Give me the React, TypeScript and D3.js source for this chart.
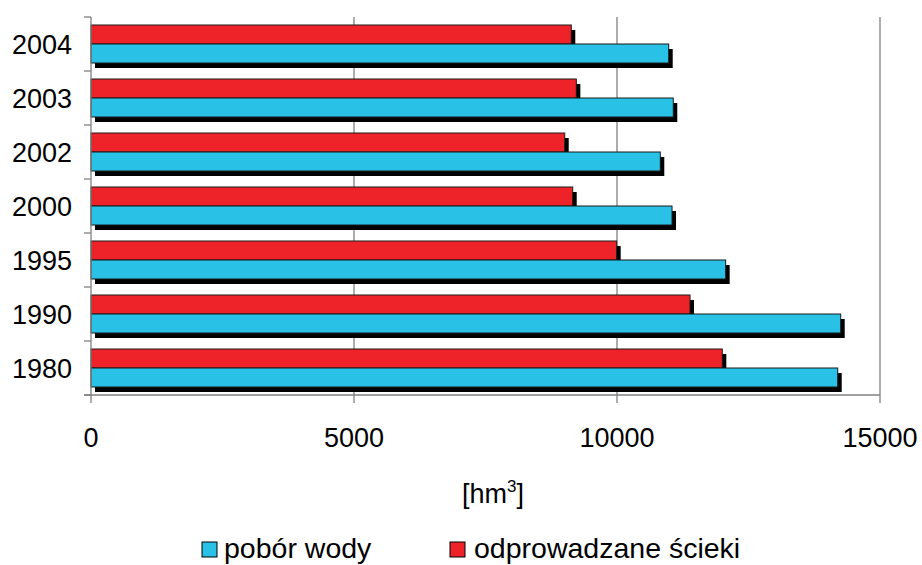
import React from "react";
import * as d3 from "d3";

const years = ["2004", "2003", "2002", "2000", "1995", "1990", "1980"];
const poborWody = [10983, 11070, 10823, 11046, 12066, 14253, 14196];
const scieki = [9131, 9227, 9006, 9158, 9994, 11388, 12002];
const xTicks = [0, 5000, 10000, 15000];
const seriesNames = ["pobór wody", "odprowadzane ścieki"];

const BLUE = "#29c1e6";
const RED = "#ee2229";
const FONT = "'Liberation Sans', Arial, sans-serif";

export default function App() {
  const W = 922, H = 565;
  const x = d3.scaleLinear().domain([0, 15000]).range([91, 880]);
  const y = d3.scaleBand().domain(years).range([17, 395]).paddingInner(0).paddingOuter(0);
  const bw = y.bandwidth();
  const barH = 19;
  const off = (bw - 2 * barH) / 2;
  const sdx = 4, sdy = 5;

  const rows = years.map((yr, i) => ({ yr, blue: poborWody[i], red: scieki[i] }));
  const bandEdges = years.map((yr) => y(yr) as number).concat([395]);

  return (
    <svg width={W} height={H} style={{ position: "absolute", left: 0, top: 0, background: "#fff" }}>
      {xTicks.slice(1).map((t) => (
        <line key={"g" + t} x1={x(t)} x2={x(t)} y1={17} y2={395} stroke="#808080" strokeWidth={1.3} />
      ))}
      {rows.map((r) => {
        const y0 = y(r.yr) as number;
        return (
          <g key={r.yr}>
            <rect x={x(0) + sdx} y={y0 + off + sdy} width={x(r.red) - x(0)} height={barH} fill="#000" />
            <rect x={x(0)} y={y0 + off} width={x(r.red) - x(0)} height={barH} fill={RED} stroke="#1a1a1a" strokeWidth={1} />
            <rect x={x(0) + sdx} y={y0 + off + barH + sdy} width={x(r.blue) - x(0)} height={barH} fill="#000" />
            <rect x={x(0)} y={y0 + off + barH} width={x(r.blue) - x(0)} height={barH} fill={BLUE} stroke="#1a1a1a" strokeWidth={1} />
          </g>
        );
      })}
      <line x1={91} x2={91} y1={17} y2={395} stroke="#808080" strokeWidth={1.3} />
      <line x1={84} x2={880} y1={395} y2={395} stroke="#808080" strokeWidth={1.3} />
      {bandEdges.map((e, i) => (
        <line key={"yt" + i} x1={84} x2={91} y1={e} y2={e} stroke="#808080" strokeWidth={1.3} />
      ))}
      {xTicks.map((t) => (
        <line key={"xt" + t} x1={x(t)} x2={x(t)} y1={395} y2={403} stroke="#808080" strokeWidth={1.3} />
      ))}
      {years.map((yr) => (
        <text key={"yl" + yr} x={72} y={(y(yr) as number) + bw / 2 + 10} textAnchor="end" fontFamily={FONT} fontSize={27} fill="#000">
          {yr}
        </text>
      ))}
      {xTicks.map((t) => (
        <text key={"xl" + t} x={x(t)} y={447} textAnchor="middle" fontFamily={FONT} fontSize={27} fill="#000">
          {t}
        </text>
      ))}
      <text x={493} y={503} textAnchor="middle" fontFamily={FONT} fontSize={27} fill="#000">
        [hm<tspan dy={-11} fontSize={17}>3</tspan><tspan dy={11}>]</tspan>
      </text>
      <rect x={202} y={542} width={15} height={15} fill={BLUE} stroke="#000" strokeWidth={1} />
      <text x={224} y={558} fontFamily={FONT} fontSize={28.5} fill="#000">{seriesNames[0]}</text>
      <rect x={450} y={542} width={15} height={15} fill={RED} stroke="#000" strokeWidth={1} />
      <text x={474} y={558} fontFamily={FONT} fontSize={28.5} fill="#000">{seriesNames[1]}</text>
    </svg>
  );
}
